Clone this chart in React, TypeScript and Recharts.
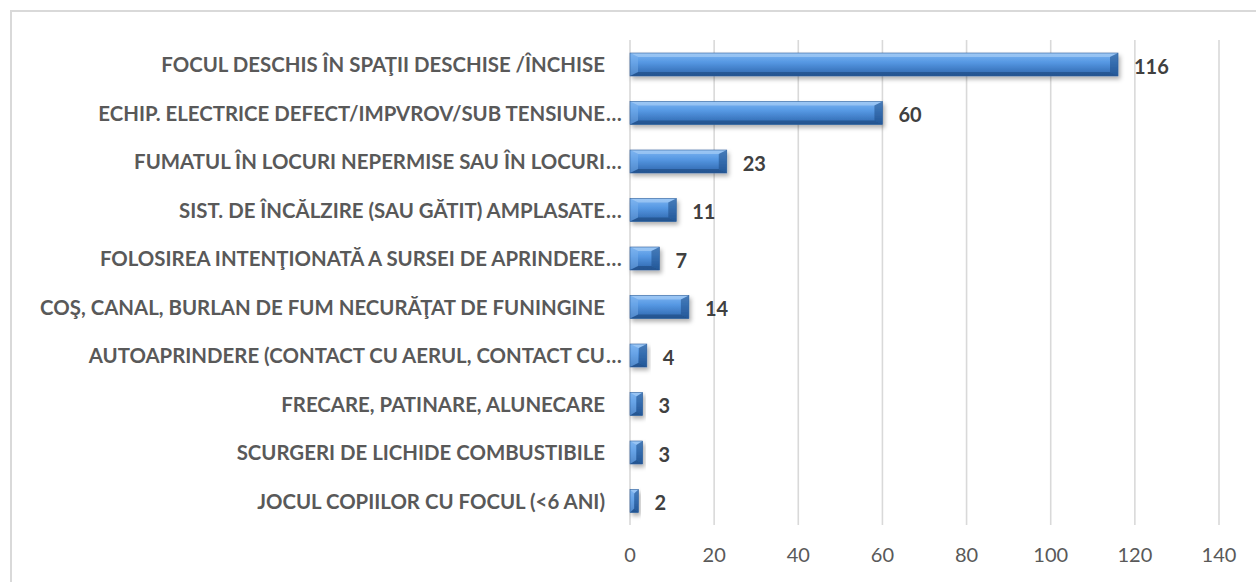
import React from "react";
import { BarChart, Bar, XAxis, YAxis, CartesianGrid, LabelList } from "recharts";

const categories = [
  "FOCUL DESCHIS ÎN SPAŢII DESCHISE /ÎNCHISE",
  "ECHIP. ELECTRICE DEFECT/IMPVROV/SUB TENSIUNE…",
  "FUMATUL ÎN LOCURI NEPERMISE SAU ÎN LOCURI…",
  "SIST. DE ÎNCĂLZIRE (SAU GĂTIT) AMPLASATE…",
  "FOLOSIREA INTENŢIONATĂ A SURSEI DE APRINDERE…",
  "COŞ, CANAL, BURLAN DE FUM NECURĂŢAT DE FUNINGINE",
  "AUTOAPRINDERE (CONTACT CU AERUL, CONTACT CU…",
  "FRECARE, PATINARE, ALUNECARE",
  "SCURGERI DE LICHIDE COMBUSTIBILE",
  "JOCUL COPIILOR CU FOCUL (<6 ANI)",
];
const values = [116, 60, 23, 11, 7, 14, 4, 3, 3, 2];
const xTicks = [0, 20, 40, 60, 80, 100, 120, 140];

const data = categories.map((name, i) => ({ name, value: values[i] }));

const FONT = "Lato, 'Liberation Sans', sans-serif";

const BevelBar = (props: any) => {
  const { x, y, width, height } = props;
  if (!width || width <= 0) return null;
  const w = width;
  const h = height;
  const be = Math.min(8, w / 2);
  const bt = Math.min(4, h / 2);
  return (
    <g filter="url(#barShadow)">
      <rect x={x} y={y} width={w} height={h} fill="url(#barFace)" />
      <polygon
        points={`${x},${y} ${x + w},${y} ${x + w - be},${y + bt} ${x + be},${y + bt}`}
        fill="#b5d5f7"
        fillOpacity={0.55}
      />
      <polygon
        points={`${x},${y + h} ${x + w},${y + h} ${x + w - be},${y + h - bt} ${x + be},${y + h - bt}`}
        fill="#1c4578"
        fillOpacity={0.55}
      />
      <polygon
        points={`${x},${y} ${x + be},${y + bt} ${x + be},${y + h - bt} ${x},${y + h}`}
        fill="#7fb4ee"
        fillOpacity={0.45}
      />
      <polygon
        points={`${x + w},${y} ${x + w - be},${y + bt} ${x + w - be},${y + h - bt} ${x + w},${y + h}`}
        fill="#1d4c86"
        fillOpacity={0.55}
      />
      <rect x={x} y={y} width={w} height={h} fill="none" stroke="#2d5f9c" strokeWidth={0.6} />
    </g>
  );
};

const CatTick = (props: any) => {
  const { y, payload } = props;
  const label: string = payload.value;
  const hasEll = label.endsWith("…");
  const base = hasEll ? label.slice(0, -1) : label;
  const right = 605;
  return (
    <g>
      <text
        x={right}
        y={y}
        textAnchor="end"
        dominantBaseline="central"
        fontFamily={FONT}
        fontWeight={700}
        fontSize={20.4}
        fill="#595959"
      >
        {base}
      </text>
      {hasEll && (
        <text
          x={right + 1}
          y={y}
          textAnchor="start"
          dominantBaseline="central"
          fontFamily={FONT}
          fontWeight={700}
          fontSize={20.4}
          fill="#595959"
        >
          …
        </text>
      )}
    </g>
  );
};

const XTick = (props: any) => {
  const { x, y, payload } = props;
  return (
    <text
      x={x}
      y={y + 21}
      textAnchor="middle"
      dominantBaseline="central"
      fontFamily={FONT}
      fontSize={20}
      fill="#595959"
    >
      {payload.value}
    </text>
  );
};

const ValueLabel = (props: any) => {
  const { x, y, width, height, value } = props;
  return (
    <text
      x={x + width + 16}
      y={y + height / 2 + 1}
      textAnchor="start"
      dominantBaseline="central"
      fontFamily={FONT}
      fontWeight={700}
      fontSize={20}
      fill="#404040"
    >
      {value}
    </text>
  );
};

export default function App() {
  return (
    <div
      style={{
        position: "absolute",
        left: 0,
        top: 0,
        width: 1256,
        height: 582,
        overflow: "hidden",
        background: "#ffffff",
      }}
    >
      <div
        style={{
          position: "absolute",
          left: 10,
          top: 10,
          width: 1400,
          height: 700,
          borderLeft: "2px solid #d9d9d9",
          borderTop: "2px solid #d9d9d9",
        }}
      />
      <div style={{ position: "absolute", left: 0, top: 0 }}>
        <BarChart
          width={1256}
          height={582}
          data={data}
          layout="vertical"
          margin={{ top: 40, right: 37, bottom: 27, left: 10 }}
          barSize={23}
        >
          <defs>
            <linearGradient id="barFace" x1="0" y1="0" x2="0" y2="1">
              <stop offset="0%" stopColor="#7db5f2" />
              <stop offset="40%" stopColor="#5698e3" />
              <stop offset="100%" stopColor="#2c64ab" />
            </linearGradient>
            <filter id="barShadow" x="-10%" y="-30%" width="130%" height="180%">
              <feDropShadow dx="2" dy="3" stdDeviation="2" floodColor="#000000" floodOpacity="0.3" />
            </filter>
          </defs>
          <CartesianGrid horizontal={false} stroke="#d9d9d9" strokeWidth={1.6} />
          <XAxis
            type="number"
            domain={[0, 140]}
            ticks={xTicks}
            axisLine={false}
            tickLine={false}
            tick={<XTick />}
            interval={0}
            height={30}
          />
          <YAxis
            type="category"
            dataKey="name"
            width={620}
            axisLine={false}
            tickLine={false}
            tick={<CatTick />}
            interval={0}
          />
          <Bar dataKey="value" shape={<BevelBar />} isAnimationActive={false}>
            <LabelList dataKey="value" content={<ValueLabel />} />
          </Bar>
        </BarChart>
      </div>
    </div>
  );
}
